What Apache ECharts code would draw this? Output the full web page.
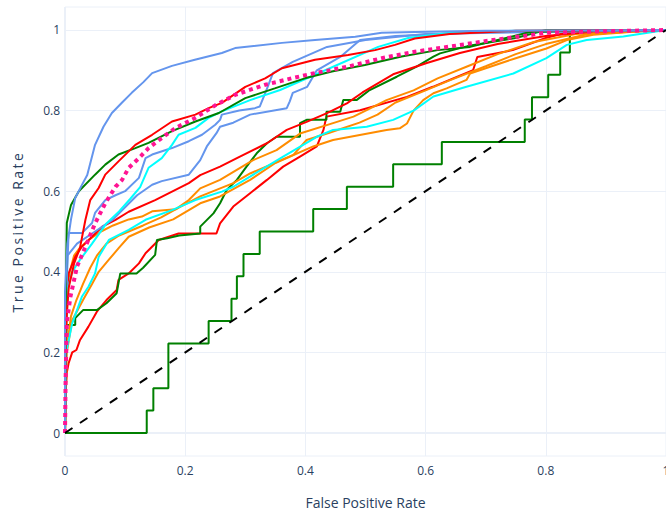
<!DOCTYPE html>
<html>
<head>
<meta charset="utf-8">
<script src="https://cdn.jsdelivr.net/npm/echarts@6/dist/echarts.min.js"></script>
<style>
  html, body { margin: 0; padding: 0; background: #fff; }
  #chart { width: 666px; height: 517px; }
</style>
</head>
<body>
<div id="chart"></div>
<script>
// ROC points [fpr, tpr]
const blueTop = [[0,0],[0,0.35],[0.004,0.47],[0.01,0.53],[0.017,0.583],[0.028,0.615],[0.037,0.64],[0.05,0.715],[0.064,0.76],[0.078,0.794],[0.095,0.82],[0.111,0.844],[0.13,0.87],[0.145,0.893],[0.178,0.911],[0.216,0.926],[0.261,0.943],[0.283,0.955],[0.361,0.968],[0.416,0.975],[0.483,0.983],[0.527,0.993],[0.582,0.995],[0.7,0.998],[1,1]]
const blueA = [[0,0],[0.001,0.3],[0.006,0.496],[0.028,0.496],[0.045,0.521],[0.05,0.546],[0.067,0.578],[0.084,0.59],[0.1,0.6],[0.123,0.633],[0.134,0.682],[0.145,0.691],[0.178,0.707],[0.206,0.724],[0.228,0.74],[0.25,0.765],[0.258,0.777],[0.261,0.79],[0.29,0.8],[0.316,0.806],[0.324,0.81],[0.335,0.85],[0.346,0.893],[0.379,0.921],[0.436,0.958],[0.5,0.975],[0.6,0.99],[1,1]]
const blueB = [[0,0],[0.001,0.3],[0.004,0.44],[0.02,0.47],[0.05,0.5],[0.08,0.53],[0.1,0.56],[0.12,0.59],[0.145,0.616],[0.161,0.625],[0.206,0.641],[0.225,0.677],[0.236,0.711],[0.252,0.744],[0.258,0.76],[0.28,0.77],[0.308,0.79],[0.369,0.806],[0.374,0.823],[0.379,0.844],[0.403,0.859],[0.419,0.9],[0.458,0.933],[0.491,0.975],[0.55,0.985],[0.7,0.995],[1,1]]

const redTop = [[0,0],[0.001,0.25],[0.006,0.36],[0.015,0.42],[0.025,0.46],[0.034,0.529],[0.042,0.578],[0.056,0.608],[0.067,0.641],[0.089,0.674],[0.117,0.715],[0.145,0.74],[0.178,0.773],[0.217,0.79],[0.239,0.806],[0.261,0.819],[0.3,0.859],[0.333,0.88],[0.361,0.905],[0.416,0.926],[0.471,0.938],[0.516,0.95],[0.549,0.963],[0.582,0.979],[0.64,0.99],[0.75,0.998],[1,1]]
const redMid = [[0,0],[0.001,0.2],[0.003,0.33],[0.006,0.396],[0.017,0.437],[0.028,0.462],[0.045,0.487],[0.062,0.512],[0.084,0.529],[0.106,0.549],[0.15,0.578],[0.206,0.62],[0.225,0.64],[0.258,0.661],[0.291,0.686],[0.336,0.719],[0.369,0.752],[0.402,0.772],[0.435,0.793],[0.469,0.818],[0.495,0.845],[0.546,0.89],[0.602,0.918],[0.657,0.943],[0.72,0.965],[0.8,0.985],[0.88,0.996],[1,1]]
const redLow = [[0,0],[0.001,0.1],[0.003,0.15],[0.006,0.173],[0.012,0.2],[0.019,0.206],[0.025,0.231],[0.039,0.264],[0.053,0.301],[0.069,0.33],[0.086,0.355],[0.089,0.38],[0.106,0.396],[0.123,0.421],[0.134,0.446],[0.156,0.479],[0.189,0.495],[0.252,0.495],[0.258,0.52],[0.28,0.562],[0.308,0.595],[0.336,0.628],[0.363,0.661],[0.391,0.686],[0.419,0.711],[0.43,0.752],[0.435,0.785],[0.491,0.801],[0.569,0.834],[0.612,0.859],[0.679,0.9],[0.686,0.933],[0.745,0.95],[0.8,0.98],[0.85,1],[1,1]]

const pinkAvg = [[0,0],[0.001,0.13],[0.003,0.273],[0.009,0.338],[0.02,0.413],[0.034,0.462],[0.05,0.52],[0.067,0.57],[0.084,0.611],[0.095,0.628],[0.106,0.658],[0.123,0.682],[0.139,0.707],[0.161,0.732],[0.184,0.757],[0.217,0.782],[0.25,0.813],[0.283,0.839],[0.333,0.864],[0.377,0.88],[0.416,0.893],[0.471,0.909],[0.527,0.93],[0.582,0.946],[0.641,0.959],[0.712,0.975],[0.802,0.993],[0.879,0.996],[1,1]]

const cyanTop = [[0,0],[0.001,0.25],[0.005,0.36],[0.012,0.4],[0.025,0.43],[0.045,0.47],[0.069,0.52],[0.09,0.55],[0.108,0.58],[0.125,0.61],[0.139,0.658],[0.161,0.682],[0.178,0.715],[0.189,0.74],[0.217,0.757],[0.239,0.782],[0.261,0.798],[0.308,0.826],[0.358,0.851],[0.433,0.9],[0.521,0.958],[0.571,0.98],[0.64,0.993],[0.75,0.998],[1,1]]
const cyanLow = [[0,0],[0.002,0.2],[0.012,0.272],[0.028,0.338],[0.039,0.363],[0.05,0.396],[0.056,0.437],[0.073,0.479],[0.106,0.504],[0.134,0.529],[0.178,0.553],[0.217,0.578],[0.261,0.599],[0.28,0.611],[0.363,0.686],[0.419,0.735],[0.446,0.752],[0.502,0.76],[0.546,0.777],[0.58,0.8],[0.613,0.835],[0.668,0.859],[0.746,0.892],[0.801,0.93],[0.835,0.963],[0.868,0.975],[0.929,0.984],[1,1]]

const greenTop = [[0,0],[0.001,0.3],[0.003,0.521],[0.01,0.566],[0.023,0.6],[0.05,0.641],[0.067,0.666],[0.089,0.691],[0.117,0.707],[0.139,0.72],[0.178,0.749],[0.217,0.773],[0.256,0.794],[0.3,0.831],[0.349,0.855],[0.399,0.88],[0.444,0.897],[0.499,0.913],[0.56,0.934],[0.62,0.95],[0.674,0.958],[0.72,0.975],[0.774,0.995],[0.89,1],[1,1]]
const greenMid = [[0,0],[0.001,0.2],[0.003,0.268],[0.017,0.268],[0.017,0.285],[0.03,0.305],[0.053,0.305],[0.069,0.322],[0.086,0.347],[0.092,0.396],[0.119,0.396],[0.13,0.41],[0.15,0.442],[0.153,0.479],[0.17,0.483],[0.19,0.49],[0.225,0.495],[0.225,0.512],[0.247,0.545],[0.258,0.57],[0.269,0.603],[0.286,0.628],[0.302,0.661],[0.319,0.694],[0.336,0.719],[0.352,0.735],[0.391,0.735],[0.391,0.769],[0.402,0.777],[0.435,0.777],[0.435,0.797],[0.458,0.797],[0.463,0.826],[0.485,0.826],[0.507,0.851],[0.552,0.884],[0.585,0.909],[0.613,0.934],[0.624,0.942],[0.67,0.96],[0.75,0.98],[0.8,1],[1,1]]
const greenLow = [[0,0],[0.136,0],[0.136,0.056],[0.147,0.056],[0.147,0.111],[0.172,0.111],[0.172,0.222],[0.239,0.222],[0.239,0.278],[0.277,0.278],[0.277,0.333],[0.286,0.333],[0.286,0.389],[0.297,0.389],[0.297,0.444],[0.324,0.444],[0.324,0.5],[0.413,0.5],[0.413,0.556],[0.469,0.556],[0.469,0.611],[0.546,0.611],[0.546,0.667],[0.627,0.667],[0.627,0.722],[0.765,0.722],[0.765,0.778],[0.777,0.778],[0.777,0.833],[0.804,0.833],[0.804,0.889],[0.824,0.889],[0.824,0.944],[0.84,0.944],[0.84,1],[1,1]]

const orangeTop = [[0,0],[0.001,0.2],[0.004,0.33],[0.008,0.4],[0.015,0.44],[0.025,0.46],[0.04,0.48],[0.06,0.5],[0.08,0.515],[0.106,0.53],[0.128,0.537],[0.145,0.55],[0.184,0.555],[0.206,0.578],[0.225,0.607],[0.258,0.628],[0.313,0.677],[0.352,0.702],[0.391,0.743],[0.446,0.769],[0.48,0.785],[0.502,0.801],[0.535,0.826],[0.58,0.85],[0.62,0.88],[0.67,0.91],[0.72,0.94],[0.78,0.97],[0.85,0.99],[1,1]]
const orangeMid = [[0,0],[0.002,0.2],[0.01,0.29],[0.019,0.33],[0.03,0.37],[0.042,0.41],[0.053,0.44],[0.069,0.47],[0.09,0.49],[0.106,0.5],[0.13,0.515],[0.16,0.535],[0.19,0.56],[0.225,0.587],[0.28,0.62],[0.308,0.644],[0.347,0.669],[0.38,0.69],[0.402,0.727],[0.44,0.745],[0.49,0.77],[0.52,0.79],[0.55,0.82],[0.6,0.85],[0.64,0.875],[0.7,0.91],[0.75,0.94],[0.8,0.965],[0.87,0.99],[1,1]]
const orangeLow = [[0,0],[0.003,0.2],[0.012,0.28],[0.03,0.33],[0.045,0.37],[0.056,0.4],[0.073,0.43],[0.09,0.46],[0.106,0.487],[0.14,0.51],[0.18,0.53],[0.225,0.57],[0.258,0.587],[0.308,0.628],[0.35,0.67],[0.413,0.711],[0.446,0.727],[0.535,0.752],[0.557,0.756],[0.569,0.768],[0.58,0.8],[0.596,0.826],[0.613,0.843],[0.635,0.855],[0.668,0.876],[0.674,0.892],[0.75,0.93],[0.801,0.954],[0.835,0.975],[0.879,0.988],[0.95,0.996],[1,1]]

const chance = [[0,0],[1,1]]
const tickValues = [0, 0.2, 0.4, 0.6, 0.8, 1]

const fontFamily = '"Open Sans", Verdana, Arial, sans-serif'
const textColor = '#2a3f5f'
const gridColor = '#ebf0f8'

function curve(data, color, width, dash, z) {
    return {
        type: 'line',
        data: data,
        symbol: 'none',
        z: z || 2,
        lineStyle: { color: color, width: width || 2, type: dash || 'solid' },
        emphasis: { disabled: true }
    }
}

let chart = echarts.init(document.getElementById('chart'), null, { renderer: 'svg' })

let option = {
    animation: false,
    backgroundColor: '#fff',
    grid: {
        left: 65, right: 0, top: 7, bottom: 61,
        outerBoundsMode: 'none',
        containLabel: false,
        show: true, borderColor: gridColor, borderWidth: 1
    },
    xAxis: {
        type: 'value', min: 0, max: 1, interval: 0.2,
        name: 'False Positive Rate',
        nameLocation: 'middle', nameGap: 39,
        nameTextStyle: { fontSize: 14, color: textColor, fontFamily: fontFamily },
        axisLine: { show: false }, axisTick: { show: false },
        axisLabel: { fontSize: 12, color: textColor, fontFamily: fontFamily, margin: 8, hideOverlap: false },
        splitLine: { lineStyle: { color: gridColor, width: 1 } }
    },
    yAxis: {
        type: 'value', min: -0.057, max: 1.057,
        name: 'True Positive Rate',
        nameLocation: 'middle', nameGap: 41,
        nameTextStyle: { fontSize: 14, color: textColor, fontFamily: fontFamily },
        axisLine: { show: false },
        axisTick: { show: false, customValues: tickValues },
        axisLabel: { fontSize: 12, color: textColor, fontFamily: fontFamily, margin: 5, customValues: tickValues },
        splitLine: { lineStyle: { color: gridColor, width: 1 } }
    },
    series: [
        {
            type: 'line', data: [], z: 1, silent: true,
            markLine: {
                z: 1, silent: true, symbol: 'none', label: { show: false },
                lineStyle: { color: gridColor, width: 2, type: 'solid' },
                data: [{ yAxis: 0 }, { xAxis: 0 }]
            }
        },
        curve(greenLow, '#008000'),
        curve(redLow, '#ff0000'),
        curve(greenMid, '#008000'),
        curve(orangeLow, '#ff8c00'),
        curve(orangeMid, '#ff8c00'),
        curve(orangeTop, '#ff8c00'),
        curve(cyanLow, '#00ffff'),
        curve(redMid, '#ff0000'),
        curve(blueB, '#6495ed'),
        curve(blueA, '#6495ed'),
        curve(cyanTop, '#00ffff'),
        curve(greenTop, '#008000'),
        curve(redTop, '#ff0000'),
        curve(blueTop, '#6495ed'),
        curve(pinkAvg, '#ff1493', 4, [4, 4], 3),
        curve(chance, '#000000', 2, [9, 9], 3)
    ]
}

chart.setOption(option)

// the y title in the picture is drawn with wider letter spacing
document.querySelectorAll('#chart text').forEach(t => {
    if (t.textContent === 'True Positive Rate') t.setAttribute('letter-spacing', '2.5px')
})
</script>
</body>
</html>
